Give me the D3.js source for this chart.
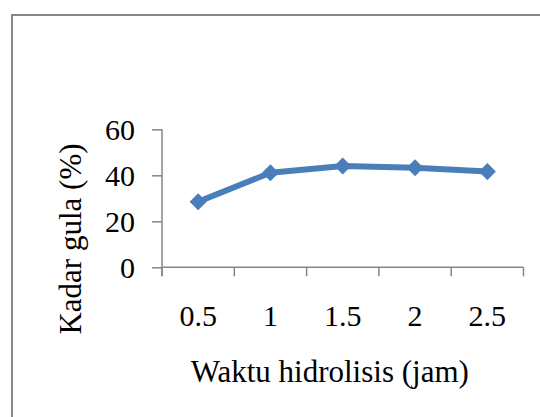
<!DOCTYPE html>
<html>
<head>
<meta charset="utf-8">
<script src="https://cdn.jsdelivr.net/npm/d3@7"></script>
<style>
  body { margin: 0; background: #fff; }
  text { font-family: "Liberation Serif", "Times New Roman", serif; fill: #000; }
</style>
</head>
<body>
<svg id="chart"></svg>
<script>
const categories = ["0.5", "1", "1.5", "2", "2.5"];
const kadarGula = [28.5, 41.1, 44.0, 43.3, 41.6];
const yTicks = [0, 20, 40, 60];

const width = 540;
const height = 417;

const svg = d3.select("#chart")
    .attr("width", width)
    .attr("height", height);

// chart frame, runs off the right and bottom edges
svg.append("rect")
    .attr("x", 12)
    .attr("y", 15)
    .attr("width", 560)
    .attr("height", 440)
    .attr("fill", "none")
    .attr("stroke", "#878787")
    .attr("stroke-width", 2);

const plot = { left: 162, right: 523.5, top: 129.3, bottom: 267.3 };

const x = d3.scaleBand()
    .domain(categories)
    .range([plot.left, plot.right]);

const y = d3.scaleLinear()
    .domain([0, 60])
    .range([plot.bottom, plot.top]);

const axisColor = "#868686";

// y axis
const yAxis = svg.append("g")
    .attr("transform", `translate(${plot.left},0)`)
    .call(d3.axisLeft(y).tickValues(yTicks).tickSize(10).tickPadding(17));
yAxis.select(".domain").remove();
yAxis.append("line")
    .attr("y1", plot.top)
    .attr("y2", plot.bottom + 9)
    .attr("stroke", axisColor)
    .attr("stroke-width", 1.5);
yAxis.selectAll(".tick line").attr("stroke", axisColor).attr("stroke-width", 1.5);
yAxis.selectAll(".tick text")
    .attr("font-size", "30px")
    .attr("dy", "0.34em");

// x axis with tick marks on category boundaries
const xAxis = svg.append("g")
    .attr("transform", `translate(0,${plot.bottom})`);
xAxis.append("line")
    .attr("x1", plot.left)
    .attr("x2", plot.right)
    .attr("stroke", axisColor)
    .attr("stroke-width", 1.5);
const bounds = categories.map(c => x(c) + x.bandwidth()).concat([plot.left]);
xAxis.selectAll("line.tick")
    .data(bounds)
    .enter()
    .append("line")
    .attr("class", "tick")
    .attr("x1", d => d)
    .attr("x2", d => d)
    .attr("y1", 0)
    .attr("y2", 9)
    .attr("stroke", axisColor)
    .attr("stroke-width", 1.5);
xAxis.selectAll("text")
    .data(categories)
    .enter()
    .append("text")
    .attr("x", d => x(d) + x.bandwidth() / 2)
    .attr("y", 59)
    .attr("text-anchor", "middle")
    .attr("font-size", "30px")
    .text(d => d);

// axis titles
svg.append("text")
    .attr("x", (plot.left + plot.right) / 2 - 13)
    .attr("y", 382)
    .attr("text-anchor", "middle")
    .attr("font-size", "31px")
    .text("Waktu hidrolisis (jam)");

svg.append("text")
    .attr("transform", "translate(80.5,239) rotate(-90)")
    .attr("text-anchor", "middle")
    .attr("font-size", "31px")
    .text("Kadar gula (%)");

// series
const color = "#4A7EBB";
const line = d3.line()
    .x((d, i) => x(categories[i]) + x.bandwidth() / 2)
    .y(d => y(d));

svg.append("path")
    .datum(kadarGula)
    .attr("d", line)
    .attr("fill", "none")
    .attr("stroke", color)
    .attr("stroke-width", 6)
    .attr("stroke-linejoin", "round");

svg.selectAll("path.marker")
    .data(kadarGula)
    .enter()
    .append("path")
    .attr("class", "marker")
    .attr("d", d3.symbol().type(d3.symbolDiamond2).size(185))
    .attr("transform", (d, i) => `translate(${x(categories[i]) + x.bandwidth() / 2},${y(d)})`)
    .attr("fill", color);
</script>
</body>
</html>
